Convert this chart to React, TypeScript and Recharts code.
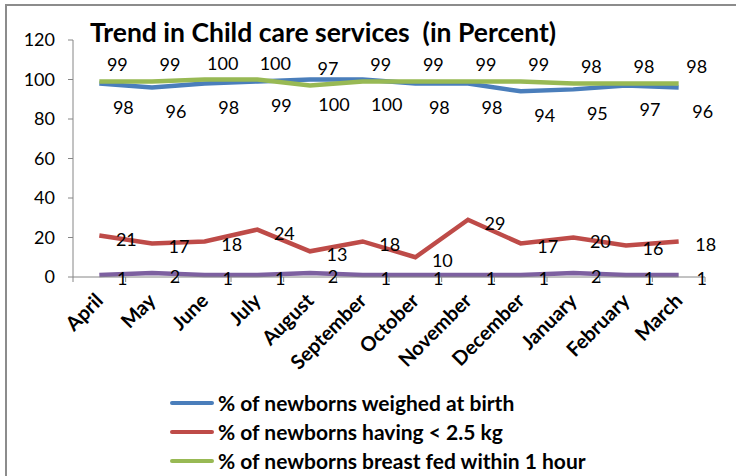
import { LineChart, Line, XAxis, YAxis, Legend, LabelList } from "recharts";

const months = [
  "April", "May", "June", "July", "August", "September",
  "October", "November", "December", "January", "February", "March",
];
const weighedAtBirth = [98, 96, 98, 99, 100, 100, 98, 98, 94, 95, 97, 96];
const underWeight = [21, 17, 18, 24, 13, 18, 10, 29, 17, 20, 16, 18];
const breastFed = [99, 99, 100, 100, 97, 99, 99, 99, 99, 98, 98, 98];
const fourthSeries = [1, 2, 1, 1, 2, 1, 1, 1, 1, 2, 1, 1];
const yTicks = [0, 20, 40, 60, 80, 100, 120];

const legendNames = [
  "% of newborns weighed at birth",
  "% of newborns having < 2.5 kg",
  "% of newborns breast fed within 1 hour",
];
const legendColors = ["#4a7ebb", "#be4b48", "#98b954"];

const data = months.map((m, i) => ({
  month: m,
  weighed: weighedAtBirth[i],
  under: underWeight[i],
  breast: breastFed[i],
  fourth: fourthSeries[i],
}));

const FONT = "Lato, 'Open Sans', sans-serif";
const W = 736;
const H = 476;
const M = { top: 40, right: 31, left: 0, bottom: 0 };
const Y_W = 73;
const BAND = (W - M.right - Y_W) / months.length;
const AXIS = "#868686";

const valueLabel = (dx: number, dy: number) => (props: any) => {
  const x = props.x ?? props.viewBox?.x;
  const y = props.y ?? props.viewBox?.y;
  if (x == null || y == null) return null;
  return (
    <text
      x={x + dx}
      y={y + dy}
      textAnchor="middle"
      dominantBaseline="central"
      fontSize={18}
      fontFamily={FONT}
      fill="#000"
    >
      {props.value}
    </text>
  );
};

const MonthTick = (props: any) => {
  const { x, y, payload, index } = props;
  const tx = x + 5;
  const ty = y + 25;
  return (
    <g>
      <line x1={x - BAND / 2} x2={x - BAND / 2} y1={y} y2={y + 5} stroke={AXIS} />
      {index === months.length - 1 && (
        <line x1={x + BAND / 2} x2={x + BAND / 2} y1={y} y2={y + 5} stroke={AXIS} />
      )}
      <text
        x={tx}
        y={ty}
        transform={`rotate(-45, ${tx}, ${ty})`}
        textAnchor="end"
        fontSize={20}
        fontWeight="bold"
        fontFamily={FONT}
        fill="#000"
      >
        {payload.value}
      </text>
    </g>
  );
};

const LegendBox = () => (
  <div style={{ paddingLeft: 170 }}>
    {legendNames.map((name, i) => (
      <div key={name} style={{ display: "flex", alignItems: "center", height: 29 }}>
        <div style={{ width: 44, height: 4, borderRadius: 2, background: legendColors[i] }} />
        <span
          style={{
            marginLeft: 4,
            fontSize: 21,
            fontWeight: "bold",
            fontFamily: FONT,
            color: "#000",
            whiteSpace: "nowrap",
          }}
        >
          {name}
        </span>
      </div>
    ))}
  </div>
);

export default function App() {
  return (
    <div style={{ position: "absolute", left: 0, top: 0, width: W, height: H, overflow: "hidden", background: "#fff" }}>
      <div
        style={{
          position: "absolute",
          left: 5,
          top: 4,
          width: W,
          height: H,
          borderLeft: "2px solid #8c8c8c",
          borderTop: "2px solid #8c8c8c",
        }}
      />
      <LineChart width={W} height={H} data={data} margin={M}>
        <XAxis
          dataKey="month"
          height={H - 277}
          interval={0}
          padding={{ left: BAND / 2, right: BAND / 2 }}
          tickLine={false}
          tickSize={0}
          tickMargin={0}
          stroke={AXIS}
          tick={<MonthTick />}
        />
        <YAxis
          width={Y_W}
          domain={[0, 120]}
          ticks={yTicks}
          tickSize={5}
          tickMargin={13}
          stroke={AXIS}
          tick={{ fill: "#000", fontSize: 18, fontFamily: FONT }}
        />
        <Legend
          layout="horizontal"
          verticalAlign="middle"
          align="center"
          content={<LegendBox />}
          wrapperStyle={{ left: 0, top: 388, width: W }}
        />
        <Line
          dataKey="weighed"
          name={legendNames[0]}
          stroke={legendColors[0]}
          strokeWidth={4.5}
          dot={false}
          isAnimationActive={false}
        >
          <LabelList dataKey="weighed" content={valueLabel(24, 24)} />
        </Line>
        <Line
          dataKey="under"
          name={legendNames[1]}
          stroke={legendColors[1]}
          strokeWidth={4.5}
          dot={false}
          isAnimationActive={false}
        >
          <LabelList dataKey="under" content={valueLabel(27, 3)} />
        </Line>
        <Line
          dataKey="breast"
          name={legendNames[2]}
          stroke={legendColors[2]}
          strokeWidth={4.5}
          dot={false}
          isAnimationActive={false}
        >
          <LabelList dataKey="breast" content={valueLabel(18, -17)} />
        </Line>
        <Line
          dataKey="fourth"
          name="Series 4"
          stroke="#7d60a0"
          strokeWidth={4.5}
          dot={false}
          legendType="none"
          isAnimationActive={false}
        >
          <LabelList dataKey="fourth" content={valueLabel(23, 3)} />
        </Line>
      </LineChart>
      <div
        style={{
          position: "absolute",
          left: 90,
          top: 16,
          lineHeight: "32px",
          fontSize: 26.5,
          fontWeight: "bold",
          fontFamily: FONT,
          color: "#000",
          whiteSpace: "pre",
        }}
      >
        {"Trend in Child care services  (in Percent)"}
      </div>
    </div>
  );
}
